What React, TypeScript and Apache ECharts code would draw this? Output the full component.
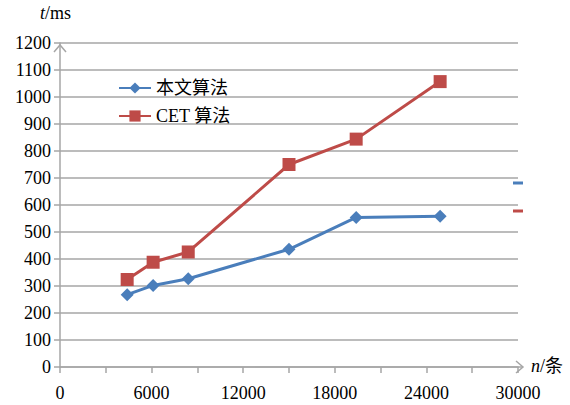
import React, { useEffect, useRef } from "react";
import * as echarts from "echarts";

const xValues = [4400, 6100, 8400, 15000, 19400, 24900];
const oursMs = [268, 302, 327, 436, 554, 558];
const cetMs = [324, 388, 426, 750, 844, 1057];
const seriesNames = ["本文算法", "CET 算法"];
const colors = ["#4a7ebb", "#be4b48"];

const FONT = "Liberation Serif, Noto Sans CJK SC, serif";
const AXIS_GRAY = "#a6a6a6";

export default function App() {
  const ref = useRef<HTMLDivElement>(null);
  useEffect(() => {
    if (!ref.current) return;
    const chart = echarts.init(ref.current, null, { renderer: "svg" });
    const left = 60, right = 52, top = 43, bottom = 38;
    const W = 570, H = 405;
    const x1 = W - right;
    const y0 = H - bottom;
    chart.setOption({
      animation: false,
      backgroundColor: "#fff",
      textStyle: { fontFamily: FONT },
      grid: { left, right, top, bottom, containLabel: false, outerBoundsMode: "none" },
      legend: {
        orient: "vertical",
        left: 113,
        top: 74,
        itemWidth: 32,
        itemHeight: 14,
        itemGap: 10,
        data: seriesNames,
        textStyle: { fontSize: 18, color: "#000", fontFamily: FONT },
      },
      xAxis: {
        type: "value",
        min: 0,
        max: 30000,
        interval: 6000,
        splitLine: { show: false },
        axisLine: { show: true, lineStyle: { color: AXIS_GRAY, width: 1.5 } },
        axisTick: { show: true, length: 6, lineStyle: { color: AXIS_GRAY, width: 1.5 } },
        minorTick: { show: true, splitNumber: 2, length: 6, lineStyle: { color: AXIS_GRAY, width: 1.5 } },
        axisLabel: {
          fontSize: 18, color: "#000", margin: 17, fontFamily: FONT,
          formatter: (v: number) => String(v),
        },
      },
      yAxis: {
        type: "value",
        min: 0,
        max: 1200,
        interval: 100,
        splitLine: { show: true, lineStyle: { color: AXIS_GRAY, width: 1.5 } },
        axisLine: { show: true, lineStyle: { color: AXIS_GRAY, width: 1.5 } },
        axisTick: { show: true, length: 6, lineStyle: { color: AXIS_GRAY, width: 1.5 } },
        axisLabel: {
          fontSize: 18, color: "#000", margin: 9, fontFamily: FONT,
          formatter: (v: number) => String(v),
        },
      },
      series: [
        {
          name: seriesNames[0],
          type: "line",
          data: xValues.map((x, i) => [x, oursMs[i]]),
          symbol: "diamond",
          symbolSize: 13,
          lineStyle: { color: colors[0], width: 3 },
          itemStyle: { color: colors[0] },
        },
        {
          name: seriesNames[1],
          type: "line",
          data: xValues.map((x, i) => [x, cetMs[i]]),
          symbol: "rect",
          symbolSize: 13,
          lineStyle: { color: colors[1], width: 3 },
          itemStyle: { color: colors[1] },
        },
      ],
      graphic: [
        {
          type: "text",
          left: 40,
          top: 4,
          style: {
            text: "{i|t}{n|/ms}",
            rich: {
              i: { fontSize: 18, fontStyle: "italic", fontFamily: FONT, fill: "#000" },
              n: { fontSize: 18, fontFamily: FONT, fill: "#000" },
            },
          },
        },
        {
          type: "text",
          left: 531,
          top: 357,
          style: {
            text: "{i|n}{n|/条}",
            rich: {
              i: { fontSize: 18, fontStyle: "italic", fontFamily: FONT, fill: "#000" },
              n: { fontSize: 18, fontFamily: FONT, fill: "#000" },
            },
          },
        },
        {
          type: "polyline",
          shape: { points: [[x1 - 2, y0 - 6], [x1 + 5, y0], [x1 - 2, y0 + 6]] },
          style: { stroke: AXIS_GRAY, lineWidth: 1.5, fill: "none" },
        },
        {
          type: "line",
          shape: { x1: x1, y1: y0, x2: x1 + 5, y2: y0 },
          style: { stroke: AXIS_GRAY, lineWidth: 1.5 },
        },
        {
          type: "polyline",
          shape: { points: [[left - 6, top + 9], [left, top + 2], [left + 6, top + 9]] },
          style: { stroke: AXIS_GRAY, lineWidth: 1.5, fill: "none" },
        },
        {
          type: "rect",
          shape: { x: 513, y: 181.5, width: 10, height: 3 },
          style: { fill: colors[0] },
        },
        {
          type: "rect",
          shape: { x: 513, y: 209.5, width: 10, height: 3 },
          style: { fill: colors[1] },
        },
      ],
    });
    return () => chart.dispose();
  }, []);
  return <div ref={ref} style={{ width: 570, height: 405, position: "absolute", left: 0, top: 0 }} />;
}
